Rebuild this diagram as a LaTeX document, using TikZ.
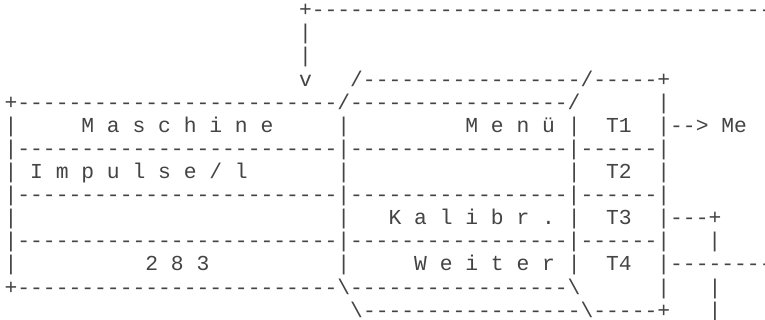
\documentclass[tikz,border=0pt]{standalone}
\usepackage{fontspec}
\setmonofont{Liberation Mono}
\ExplSyntaxOn
\cs_new:Npn \asciirep #1#2 { \prg_replicate:nn {#1} {#2} }
\ExplSyntaxOff
\newcommand\asciigap[1]{\asciirep{#1}{\hphantom{x}}}
\newcommand\asciidash[1]{\asciirep{#1}{-}}
\newcommand\lsp{\hphantom{x}}
\newcommand\bs{\textbackslash}
\definecolor{ink}{HTML}{444444}
\begin{document}
\begin{tikzpicture}[x=1pt,y=-1pt,
  row/.style={anchor=base west, inner sep=0pt, outer sep=0pt,
    font=\ttfamily\fontsize{21.33pt}{23.1pt}\selectfont, text=ink}]
\fill[white] (0,0) rectangle (765,320);
\clip (0,0) rectangle (765,320);
\def\cw{12.8}
\def\xo{4.6}
\def\yo{16.8}
\def\lh{23.1}
\node[row] (r0) at ({\xo+\cw*23},{\yo+\lh*0}) {+\asciidash{40}};
\node[row] (r1) at ({\xo+\cw*23},{\yo+\lh*1}) {|};
\node[row] (r2) at ({\xo+\cw*23},{\yo+\lh*2}) {|};
\node[row] (r3) at ({\xo+\cw*23},{\yo+\lh*3}) {v\asciigap{3}/\asciidash{17}/\asciidash{5}+};
\node[row] (r4) at ({\xo},{\yo+\lh*4}) {+\asciidash{25}/\asciidash{17}/\asciigap{6}|};
\node[row] (r5) at ({\xo},{\yo+\lh*5}) {|\asciigap{5}M\lsp a\lsp s\lsp c\lsp h\lsp i\lsp n\lsp e\asciigap{5}|\asciigap{9}M\lsp e\lsp n\lsp ü\lsp |\asciigap{2}T1\asciigap{2}|-{}->\lsp Me};
\node[row] (r6) at ({\xo},{\yo+\lh*6}) {|\asciidash{25}|\asciidash{17}|\asciidash{6}|};
\node[row] (r7) at ({\xo},{\yo+\lh*7}) {|\lsp I\lsp m\lsp p\lsp u\lsp l\lsp s\lsp e\lsp /\lsp l\asciigap{7}|\asciigap{17}|\asciigap{2}T2\asciigap{2}|};
\node[row] (r8) at ({\xo},{\yo+\lh*8}) {|\asciidash{25}|\asciidash{17}|\asciidash{6}|};
\node[row] (r9) at ({\xo},{\yo+\lh*9}) {|\asciigap{25}|\asciigap{3}K\lsp a\lsp l\lsp i\lsp b\lsp r\lsp .\lsp |\asciigap{2}T3\asciigap{2}|\asciidash{3}+};
\node[row] (r10) at ({\xo},{\yo+\lh*10}) {|\asciidash{25}|\asciidash{17}|\asciidash{6}|\asciigap{3}|};
\node[row] (r11) at ({\xo},{\yo+\lh*11}) {|\asciigap{10}2\lsp 8\lsp 3\asciigap{10}|\asciigap{5}W\lsp e\lsp i\lsp t\lsp e\lsp r\lsp |\asciigap{2}T4\asciigap{2}|\asciidash{10}};
\node[row] (r12) at ({\xo},{\yo+\lh*12}) {+\asciidash{25}\bs\asciidash{17}\bs\asciigap{6}|\asciigap{3}|};
\node[row] (r13) at ({\xo+\cw*27},{\yo+\lh*13}) {\bs\asciidash{17}\bs\asciidash{5}+\asciigap{3}|};
\end{tikzpicture}
\end{document}
